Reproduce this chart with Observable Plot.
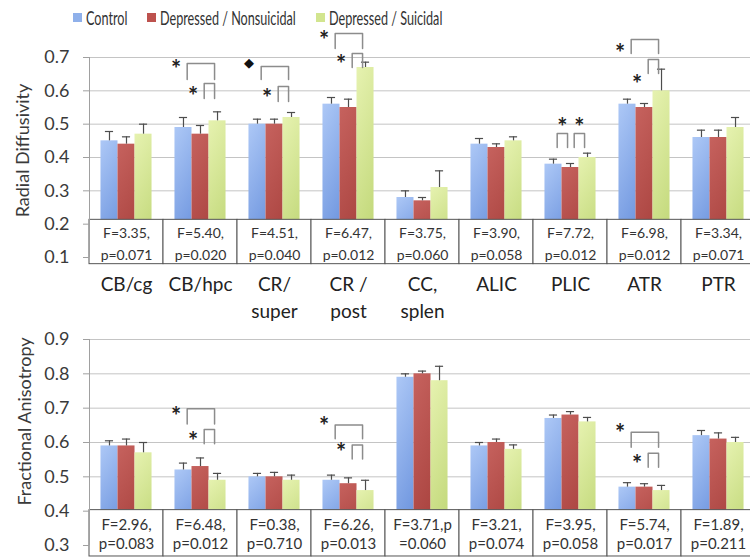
<!DOCTYPE html>
<html><head><meta charset="utf-8">
<script src="https://cdn.jsdelivr.net/npm/d3@7"></script>
<script src="https://cdn.jsdelivr.net/npm/@observablehq/plot@0.6"></script>
<style>
body{margin:0;background:#fff;font-family:Lato,"Open Sans",sans-serif;}
#legend{position:relative;height:30px;width:750px;}
.li{position:absolute;top:7px;height:20px;display:flex;align-items:center;}
.sw{width:9px;height:9px;margin-right:4px;flex:none}
.lt{font-size:19px;color:#333;transform:scaleX(0.665);transform-origin:left center;white-space:nowrap;display:inline-block}
#top,#bot{display:block;line-height:0}
</style></head><body>
<div id="legend"></div><div id="top"></div><div id="bot"></div>
<script>
// ---------- data ----------
const categories = ["CB/cg","CB/hpc","CR/\nsuper","CR /\npost","CC,\nsplen","ALIC","PLIC","ATR","PTR"];
const groups = ["Control","Depressed / Nonsuicidal","Depressed / Suicidal"];

const rdControl      = [0.45,0.49,0.50,0.56,0.28,0.44,0.38,0.56,0.46];
const rdNonsuicidal  = [0.44,0.47,0.50,0.55,0.27,0.43,0.37,0.55,0.46];
const rdSuicidal     = [0.47,0.51,0.52,0.67,0.31,0.45,0.40,0.60,0.49];
const rdErrControl     = [0.478,0.52,0.515,0.58,0.30,0.457,0.395,0.575,0.482];
const rdErrNonsuicidal = [0.462,0.496,0.515,0.575,0.28,0.441,0.382,0.562,0.482];
const rdErrSuicidal    = [0.50,0.537,0.535,0.686,0.36,0.462,0.413,0.665,0.52];
const rdStats = ["F=3.35,\np=0.071","F=5.40,\np=0.020","F=4.51,\np=0.040","F=6.47,\np=0.012","F=3.75,\np=0.060","F=3.90,\np=0.058","F=7.72,\np=0.012","F=6.98,\np=0.012","F=3.34,\np=0.071"];
const rdTicks = [0.1,0.2,0.3,0.4,0.5,0.6,0.7];
const rdBrackets = [
  {cat:1, from:0, to:2, top:0.682, leg:0.634, mark:"*", markY:0.679, place:"left"},
  {cat:1, from:1, to:2, top:0.622, leg:0.577, mark:"*", markY:0.598, place:"left"},
  {cat:2, from:0, to:2, top:0.673, leg:0.634, mark:"◆", markY:0.685, place:"left"},
  {cat:2, from:1, to:2, top:0.613, leg:0.568, mark:"*", markY:0.592, place:"left"},
  {cat:3, from:0, to:2, top:0.772, leg:0.727, mark:"*", markY:0.766, place:"left"},
  {cat:3, from:1, to:2, top:0.712, leg:0.670, mark:"*", markY:0.694, place:"left"},
  {cat:6, from:0, to:1, top:0.472, leg:0.430, mark:"*", markY:0.505, place:"above"},
  {cat:6, from:1, to:2, top:0.472, leg:0.430, mark:"*", markY:0.505, place:"above"},
  {cat:7, from:0, to:2, top:0.754, leg:0.712, mark:"*", markY:0.727, place:"left"},
  {cat:7, from:1, to:2, top:0.694, leg:0.652, mark:"*", markY:0.634, place:"left"}
];

const faControl      = [0.59,0.52,0.50,0.49,0.79,0.59,0.67,0.47,0.62];
const faNonsuicidal  = [0.59,0.53,0.50,0.48,0.80,0.60,0.68,0.47,0.61];
const faSuicidal     = [0.57,0.49,0.49,0.46,0.78,0.58,0.66,0.46,0.60];
const faErrControl     = [0.605,0.54,0.51,0.505,0.80,0.60,0.68,0.483,0.635];
const faErrNonsuicidal = [0.61,0.555,0.513,0.497,0.808,0.61,0.69,0.48,0.628];
const faErrSuicidal    = [0.60,0.51,0.505,0.49,0.822,0.593,0.673,0.475,0.615];
const faStats = ["F=2.96,\np=0.083","F=6.48,\np=0.012","F=0.38,\np=0.710","F=6.26,\np=0.013","F=3.71,p\n=0.060","F=3.21,\np=0.074","F=3.95,\np=0.058","F=5.74,\np=0.017","F=1.89,\np=0.211"];
const faTicks = [0.3,0.4,0.5,0.6,0.7,0.8,0.9];
const faBrackets = [
  {cat:1, from:0, to:2, top:0.698, leg:0.654, mark:"*", markY:0.692, place:"left"},
  {cat:1, from:1, to:2, top:0.638, leg:0.596, mark:"*", markY:0.617, place:"left"},
  {cat:3, from:0, to:2, top:0.651, leg:0.611, mark:"*", markY:0.662, place:"left"},
  {cat:3, from:1, to:2, top:0.593, leg:0.552, mark:"*", markY:0.586, place:"left"},
  {cat:7, from:0, to:2, top:0.630, leg:0.586, mark:"*", markY:0.640, place:"left"},
  {cat:7, from:1, to:2, top:0.569, leg:0.528, mark:"*", markY:0.550, place:"left"}
];

// ---------- styling ----------
const swatch = ["#8fb0ea","#bd524e","#d2e58f"];
const grads = [["#adc8f6","#6f96df"],["#c6625e","#ab4541"],["#e6f2b0","#c3d97b"]];
const off = [-0.23, 0, 0.23];
const hw = 0.115;
const FONT = "Lato, 'Open Sans', sans-serif";

// legend
const legendX = [73, 147, 316];
const leg = document.getElementById("legend");
groups.forEach((g, k) => {
  const d = document.createElement("div");
  d.className = "li"; d.style.left = legendX[k] + "px";
  d.innerHTML = `<span class="sw" style="background:${swatch[k]}"></span><span class="lt">${g}</span>`;
  leg.appendChild(d);
});

function rows(vals, errs) {
  return vals.flatMap((arr, g) => arr.map((v, i) => ({i, g, v, e: errs[g][i], x: i + off[g]})));
}

function defsMark(prefix) {
  return () => {
    const ns = "http://www.w3.org/2000/svg";
    const defs = document.createElementNS(ns, "defs");
    grads.forEach((c, k) => {
      const lg = document.createElementNS(ns, "linearGradient");
      lg.setAttribute("id", prefix + k);
      lg.setAttribute("x1", "0"); lg.setAttribute("y1", "0");
      lg.setAttribute("x2", "0.25"); lg.setAttribute("y2", "1");
      [[0, c[0]], [1, c[1]]].forEach(([o, col]) => {
        const s = document.createElementNS(ns, "stop");
        s.setAttribute("offset", o); s.setAttribute("stop-color", col);
        lg.appendChild(s);
      });
      defs.appendChild(lg);
    });
    return defs;
  };
}

function panel(o) {
  const data = rows(o.vals, o.errs);
  const br = o.brackets.map(b => ({...b, x1: b.cat + off[b.from] + 0.05, x2: b.cat + off[b.to] - 0.04}));
  const paths = br.flatMap((b, k) => [
    {k, x: b.x1, y: b.leg}, {k, x: b.x1, y: b.top}, {k, x: b.x2, y: b.top}, {k, x: b.x2, y: b.leg}
  ]);
  const mid = (o.box[0] + o.box[1]) / 2;
  const marks = [
    defsMark(o.prefix),
    Plot.ruleY(o.ticks, {stroke: "#c4c4c4", strokeWidth: 1}),
    Plot.rectY(data, {x1: d => d.x - hw, x2: d => d.x + hw, y1: () => o.domain[0], y2: "v",
      fill: d => `url(#${o.prefix}${d.g})`}),
    Plot.ruleX(data, {x: "x", y1: "v", y2: "e", stroke: "#4d4d4d", strokeWidth: 1.2}),
    Plot.ruleY(data, {x1: d => d.x - 0.055, x2: d => d.x + 0.055, y: "e", stroke: "#4d4d4d", strokeWidth: 1.2}),
    Plot.rectY(categories, {x1: (d, i) => i - 0.5, x2: (d, i) => i + 0.5, y1: () => o.box[0], y2: () => o.box[1],
      fill: "white", stroke: "#555", strokeWidth: 1}),
    Plot.text(o.stats, {x: (d, i) => i, y: () => mid, text: d => d, fontSize: o.statSize, lineHeight: o.statLH, fill: "#333"}),
    Plot.ruleX([-0.5], {y1: o.domain[0], y2: o.domain[1], stroke: "#a0a0a0"}),
    Plot.axisY({ticks: o.ticks, tickFormat: d3.format(".1f"), tickSize: 6, tickPadding: 14, fontSize: 18,
      color: "#3a3a3a", stroke: "#a0a0a0", label: null}),
    Plot.text([o.title], {frameAnchor: "left", textAnchor: "middle", rotate: -90, dx: o.titleDx, dy: o.titleDy,
      fontSize: 18, fill: "#3a3a3a"}),
    Plot.line(paths, {x: "x", y: "y", z: "k", stroke: "#8c8c8c", strokeWidth: 1.5}),
    Plot.text(br.filter(b => b.mark === "*" && b.place === "left"), {x: "x1", y: "markY", dx: -11, dy: 6,
      text: "mark", fontSize: 24, fontWeight: "bold", fill: "#222"}),
    Plot.text(br.filter(b => b.mark === "*" && b.place === "above"), {x: b => (b.x1 + b.x2) / 2, y: "markY", dy: 6,
      text: "mark", fontSize: 24, fontWeight: "bold", fill: "#222"}),
    Plot.text(br.filter(b => b.mark !== "*"), {x: "x1", y: "markY", text: "mark", fontSize: 13, fill: "#111", dx: -12})
  ];
  if (o.showX) marks.push(Plot.axisX({ticks: d3.range(categories.length), tickFormat: i => categories[i], tickSize: 0,
      tickPadding: 15, fontSize: 19, lineHeight: 1.4, color: "#222", label: null}));
  return Plot.plot({
    width: 750, height: o.height,
    marginLeft: 89, marginRight: 0, marginTop: o.mt, marginBottom: o.mb,
    style: {fontFamily: FONT, background: "white", overflow: "visible"},
    x: {type: "linear", domain: [-0.5, 8.5], range: [89, 755], axis: null},
    y: {domain: o.domain, axis: null},
    marks
  });
}

document.getElementById("top").appendChild(panel({
  prefix: "gt", vals: [rdControl, rdNonsuicidal, rdSuicidal], errs: [rdErrControl, rdErrNonsuicidal, rdErrSuicidal],
  stats: rdStats, ticks: rdTicks, domain: [0.1, 0.7], box: [0.08, 0.213], brackets: rdBrackets,
  height: 300, mt: 27, mb: 73, title: "Radial Diffusivity", titleDx: -66, titleDy: -7, showX: true,
  statSize: 14, statLH: 1.55
}));
document.getElementById("bot").appendChild(panel({
  prefix: "gb", vals: [faControl, faNonsuicidal, faSuicidal], errs: [faErrControl, faErrNonsuicidal, faErrSuicidal],
  stats: faStats, ticks: faTicks, domain: [0.3, 0.9], box: [0.268, 0.403], brackets: faBrackets,
  height: 228, mt: 9, mb: 13, title: "Fractional Anisotropy", titleDx: -64, titleDy: -21, showX: false,
  statSize: 15, statLH: 1.3
}));
</script>
</body></html>
